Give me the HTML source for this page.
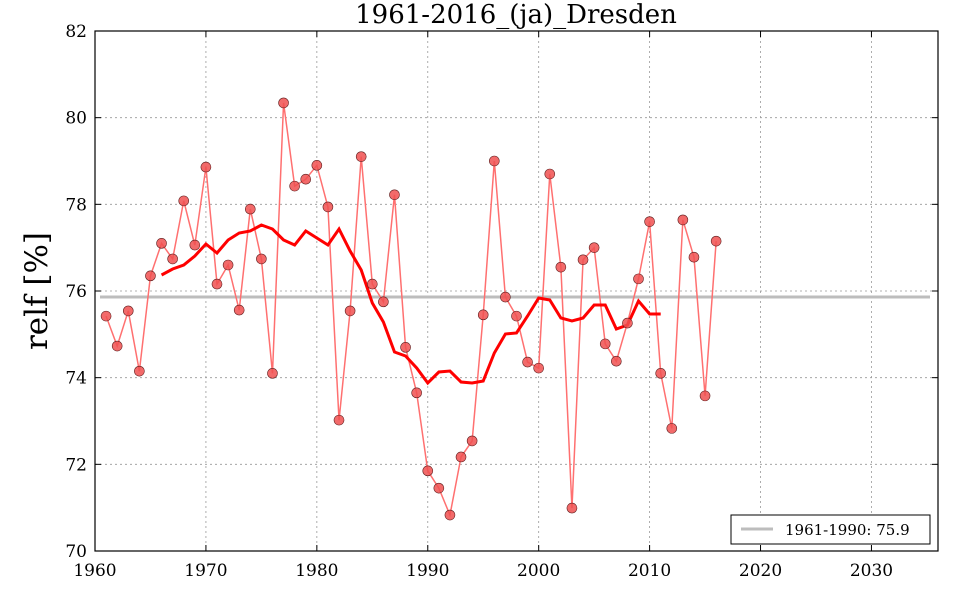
<!DOCTYPE html>
<html><head><meta charset="utf-8"><style>
body{margin:0;background:#fff;}
svg text{font-family:"DejaVu Serif","Liberation Serif",serif;fill:#000;}
</style></head><body>
<svg id="s" width="960" height="600" xmlns="http://www.w3.org/2000/svg"></svg>
<script>
const X0=95,X1=938,Y0=31,Y1=551;
const fx=y=>X0+(y-1960)*(X1-X0)/76;
const fy=v=>Y1-(v-70)*(Y1-Y0)/12;
const d=[75.42,74.73,75.54,74.15,76.35,77.1,76.74,78.08,77.06,78.86,76.16,76.6,75.56,77.89,76.74,74.1,80.34,78.42,78.58,78.9,77.94,73.02,75.54,79.1,76.16,75.75,78.22,74.7,73.65,71.85,71.45,70.83,72.17,72.54,75.45,79.0,75.86,75.42,74.36,74.22,78.7,76.55,70.99,76.72,77.0,74.78,74.38,75.26,76.28,77.6,74.1,72.83,77.64,76.78,73.58,77.15];
const ma=[275,269,265,256,244,253,240,233,231,225,229,240,245,231,238,245,229,251,270,303,322,352,356,368,383,372,371,382,383,381,353,334,333,316,298,300,318,321,318,305,305,329,325,301,314,314];
let h='';
for(let i=0;i<=7;i++){let x=fx(1960+i*10);h+=`<line x1="${x}" y1="${Y0}" x2="${x}" y2="${Y1}" stroke="#999" stroke-dasharray="2,3" stroke-width="0.8"/>`;
h+=`<text x="${x}" y="${Y1+25}" font-size="17" text-anchor="middle">${1960+i*10}</text>`;
h+=`<line x1="${x}" y1="${Y1}" x2="${x}" y2="${Y1-6}" stroke="#000"/><line x1="${x}" y1="${Y0}" x2="${x}" y2="${Y0+6}" stroke="#000"/>`;}
for(let v=70;v<=82;v+=2){let y=fy(v);h+=`<line x1="${X0}" y1="${y}" x2="${X1}" y2="${y}" stroke="#999" stroke-dasharray="2,3" stroke-width="0.8"/>`;
h+=`<text x="${X0-8}" y="${y+6}" font-size="17" text-anchor="end">${v}</text>`;
h+=`<line x1="${X0}" y1="${y}" x2="${X0+6}" y2="${y}" stroke="#000"/><line x1="${X1}" y1="${y}" x2="${X1-6}" y2="${y}" stroke="#000"/>`;}
h+=`<line x1="${X0+5}" y1="297" x2="${X1-8}" y2="297" stroke="#bdbdbd" stroke-width="3"/>`;
h+=`<polyline fill="none" stroke="#ff7070" stroke-width="1.5" points="${d.map((v,i)=>fx(1961+i)+','+fy(v)).join(' ')}"/>`;
h+=`<polyline fill="none" stroke="#ff0000" stroke-width="3" points="${ma.map((p,i)=>fx(1966+i)+','+p).join(' ')}"/>`;
d.forEach((v,i)=>{h+=`<circle cx="${fx(1961+i)}" cy="${fy(v)}" r="5" fill="#f05050" fill-opacity="0.85" stroke="#602020" stroke-width="0.6"/>`;});
h+=`<rect x="${X0}" y="${Y0}" width="${X1-X0}" height="${Y1-Y0}" fill="none" stroke="#000" stroke-width="1.2"/>`;
h+=`<rect x="731" y="515" width="199" height="29" fill="#fff" stroke="#000"/>`;
h+=`<line x1="741" y1="529" x2="773" y2="529" stroke="#bdbdbd" stroke-width="3"/>`;
h+=`<text x="785" y="535" font-size="15">1961-1990: 75.9</text>`;
h+=`<text x="516" y="23" font-size="26" text-anchor="middle">1961-2016_(ja)_Dresden</text>`;
h+=`<text transform="translate(47,291) rotate(-90)" font-size="31" text-anchor="middle">relf [%]</text>`;
document.getElementById('s').innerHTML=h;
</script>
</body></html>
